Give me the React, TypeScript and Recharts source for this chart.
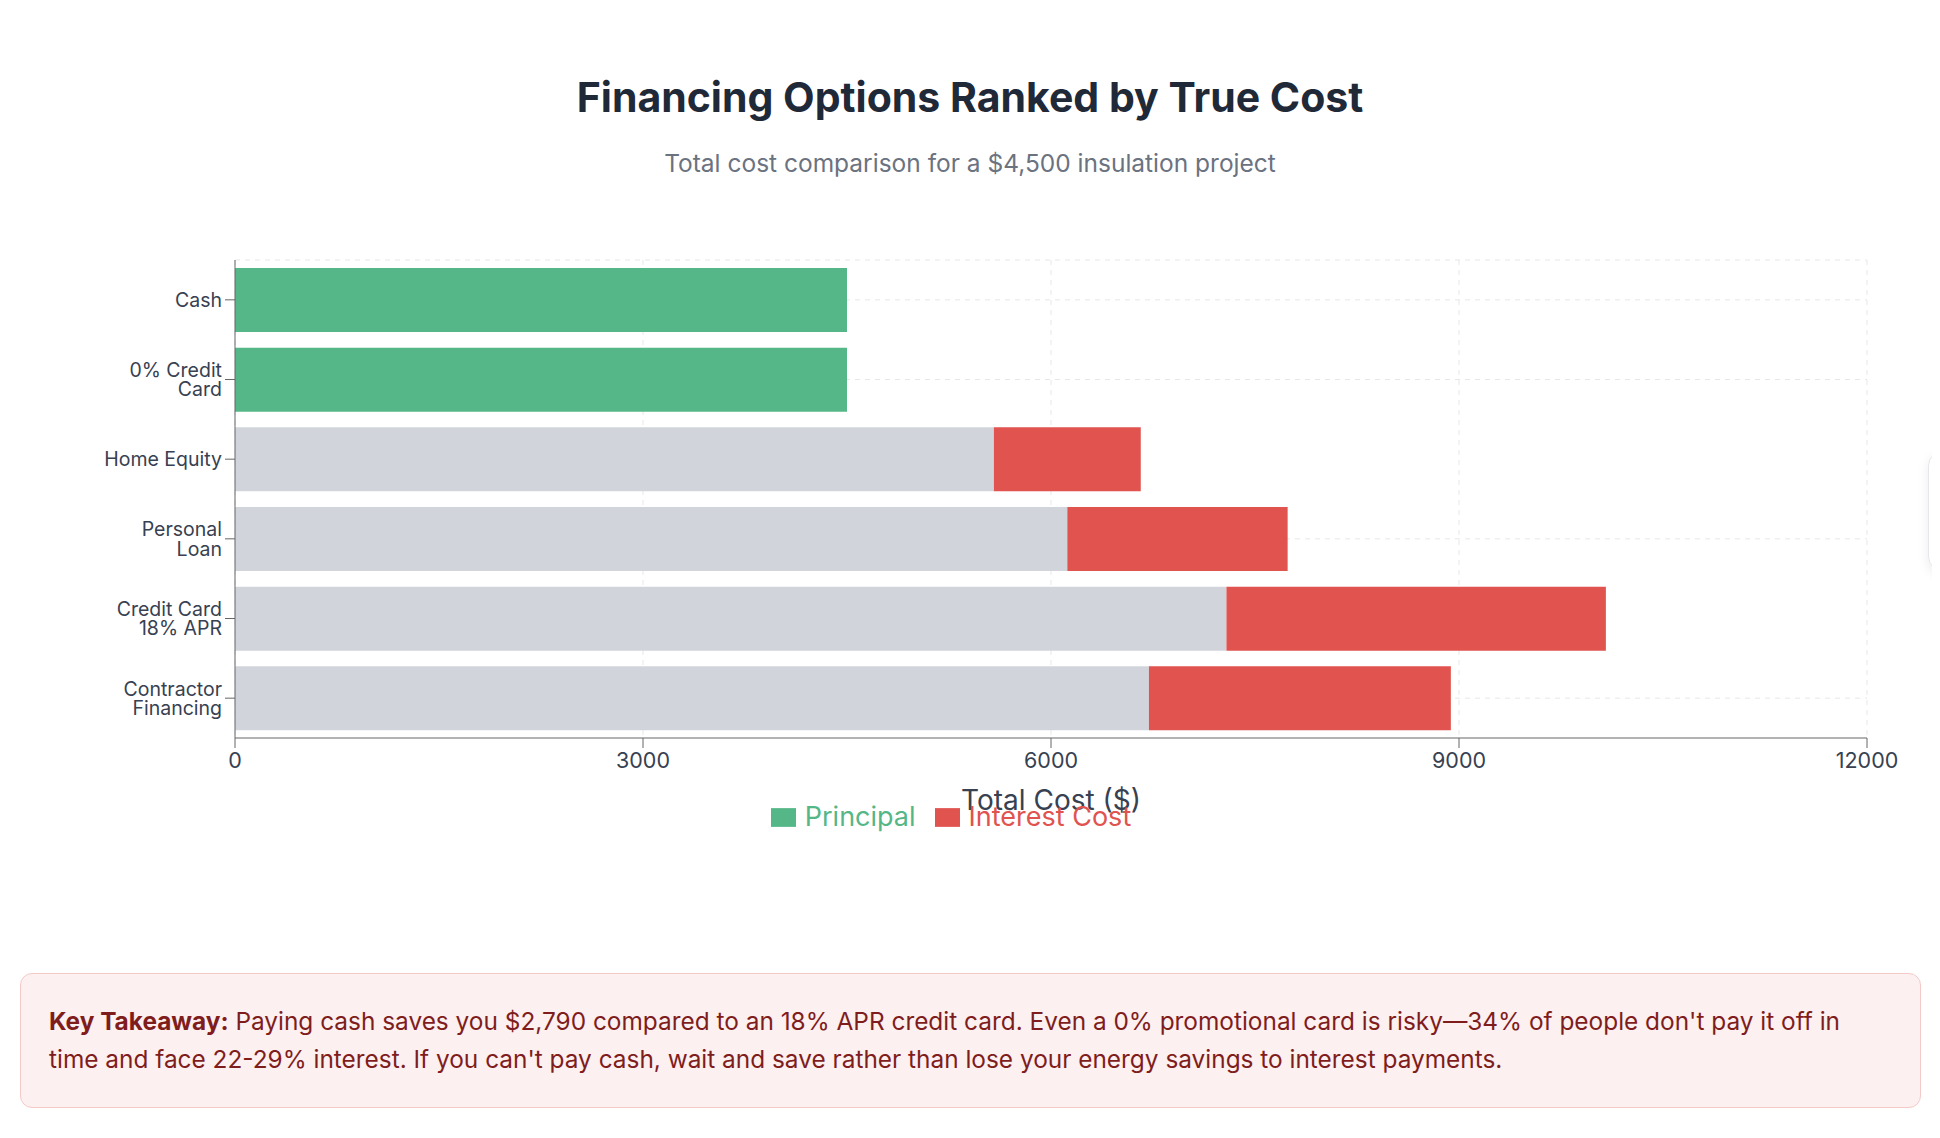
import React from 'react';
import { BarChart, Bar, XAxis, YAxis, CartesianGrid, Legend, Cell } from 'recharts';

// Financing options, listed top to bottom
const categories = [
  'Cash',
  '0% Credit Card',
  'Home Equity',
  'Personal Loan',
  'Credit Card 18% APR',
  'Contractor Financing',
];
// Base cost of each option ($)
const principalCost = [4500, 4500, 5580, 6120, 7290, 6720];
// Interest paid on top ($)
const interestCost = [0, 0, 1080, 1620, 2790, 2220];
const xTicks = [0, 3000, 6000, 9000, 12000];
// Rows that carry a horizontal guide line
const gridRows = ['Cash', '0% Credit Card', 'Personal Loan', 'Contractor Financing'];
const seriesOrder = ['Principal', 'Interest Cost'];

const GREEN = '#55b787';
const RED = '#e0534f';
const GRAY = '#d1d5db';
const FONT = 'Inter, "Noto Sans", sans-serif';

const data = categories.map((name, i) => ({
  name,
  principal: principalCost[i],
  interest: interestCost[i],
}));

const wrapLabel = (s: string, max = 11) => {
  const words = s.split(' ');
  const lines: string[] = [];
  let cur = '';
  for (const w of words) {
    const next = cur ? cur + ' ' + w : w;
    if (next.length > max && cur) {
      lines.push(cur);
      cur = w;
    } else {
      cur = next;
    }
  }
  if (cur) lines.push(cur);
  return lines;
};

const CategoryTick = (props: any) => {
  const { x, y, payload } = props;
  const lines = wrapLabel(String(payload.value));
  const fs = 19.5;
  const lh = 19.4;
  const first = 0.37 * fs - ((lines.length - 1) * lh) / 2;
  return (
    <text x={x} y={y} textAnchor="end" fill="#374151" fontSize={fs} fontFamily={FONT}>
      {lines.map((l, i) => (
        <tspan key={i} x={x} dy={i === 0 ? first : lh}>
          {l}
        </tspan>
      ))}
    </text>
  );
};

const LegendContent = (props: any) => {
  const items = [...(props.payload || [])].sort(
    (a: any, b: any) => seriesOrder.indexOf(a.value) - seriesOrder.indexOf(b.value),
  );
  return (
    <div
      style={{
        display: 'flex',
        justifyContent: 'center',
        gap: 19,
        fontSize: 27,
        lineHeight: '32px',
        fontFamily: FONT,
      }}
    >
      {items.map((p: any) => (
        <span key={p.value} style={{ display: 'inline-flex', alignItems: 'center', color: p.color }}>
          <svg width={25} height={25} viewBox="0 0 32 32" style={{ marginRight: 9 }}>
            <path fill={p.color} d="M0,4h32v24h-32z" />
          </svg>
          {p.value}
        </span>
      ))}
    </div>
  );
};

const rowLines = ({ offset }: any) => {
  const band = offset.height / categories.length;
  const rows = gridRows.map((c) => offset.top + (categories.indexOf(c) + 0.5) * band);
  return [offset.top, ...rows];
};

export default function App() {
  return (
    <div
      style={{
        position: 'relative',
        width: 1932,
        height: 1122,
        overflow: 'hidden',
        fontFamily: FONT,
        background: '#ffffff',
      }}
    >
      <div
        style={{
          position: 'absolute',
          top: 68,
          left: 0,
          width: 1924,
          textAlign: 'center',
          fontSize: 41,
          lineHeight: '42px',
          fontWeight: 700,
          color: '#1f2937',
        }}
      >
        Financing Options Ranked by True Cost
      </div>
      <div
        style={{
          position: 'absolute',
          top: 143,
          left: 0,
          width: 1924,
          textAlign: 'center',
          fontSize: 24.5,
          lineHeight: '24px',
          color: '#6b7280',
        }}
      >
        Total cost comparison for a $4,500 insulation project
      </div>

      <div style={{ position: 'absolute', left: 12, top: 212 }}>
        <BarChart
          width={1900}
          height={640}
          data={data}
          layout="vertical"
          margin={{ top: 40, right: 53, left: 15, bottom: 27 }}
        >
          <CartesianGrid
            strokeDasharray="5 5"
            stroke="#e5e7eb"
            horizontalCoordinatesGenerator={rowLines}
          />
          <XAxis
            type="number"
            domain={[0, 12000]}
            ticks={xTicks}
            height={63}
            tickSize={10}
            tickMargin={5}
            stroke="#666666"
            tick={{ fill: '#374151', fontSize: 21.5, fontFamily: FONT }}
            label={{
              value: 'Total Cost ($)',
              position: 'bottom',
              offset: -11,
              fill: '#374151',
              fontSize: 28,
              fontFamily: FONT,
            }}
          />
          <YAxis
            type="category"
            dataKey="name"
            width={200}
            tickSize={10}
            tickMargin={3}
            stroke="#666666"
            tick={<CategoryTick />}
            interval={0}
          />
          <Legend verticalAlign="bottom" content={<LegendContent />} />
          <Bar dataKey="principal" name="Principal" stackId="cost" fill={GREEN} isAnimationActive={false}>
            {data.map((d, i) => (
              <Cell key={i} fill={d.interest > 0 ? GRAY : GREEN} />
            ))}
          </Bar>
          <Bar dataKey="interest" name="Interest Cost" stackId="cost" fill={RED} isAnimationActive={false} />
        </BarChart>
      </div>

      <div
        style={{
          position: 'absolute',
          left: 12,
          top: 965,
          width: 1901,
          boxSizing: 'border-box',
          border: '1px solid #f6c9c9',
          borderRadius: 12,
          background: '#fcf0f0',
          padding: '28px 40px 28px 28px',
          fontSize: 24.4,
          lineHeight: '38.3px',
          color: '#7f1d1d',
        }}
      >
        <strong>Key Takeaway:</strong> Paying cash saves you $2,790 compared to an 18% APR credit card. Even a 0%
        promotional card is risky—34% of people don't pay it off in time and face 22-29% interest. If you can't pay
        cash, wait and save rather than lose your energy savings to interest payments.
      </div>

      <div
        style={{
          position: 'absolute',
          left: 1920,
          top: 442,
          width: 200,
          height: 122,
          boxSizing: 'border-box',
          border: '1px solid #e5e7eb',
          borderRadius: 16,
          background: '#ffffff',
          boxShadow: '0 4px 12px rgba(0,0,0,0.08)',
        }}
      />
    </div>
  );
}
